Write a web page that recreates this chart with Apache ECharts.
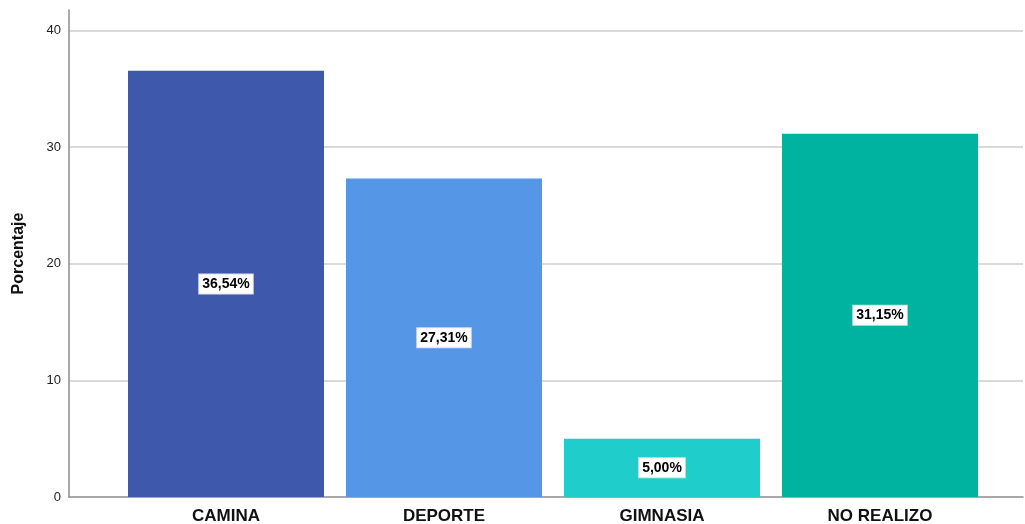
<!DOCTYPE html>
<html>
<head>
<meta charset="utf-8">
<script src="https://cdn.jsdelivr.net/npm/echarts@6/dist/echarts.min.js"></script>
<style>
  html, body { margin: 0; padding: 0; background: #fff; }
  #chart { width: 1025px; height: 524px; }
</style>
</head>
<body>
<div id="chart"></div>
<script>
// Actividad física realizada (porcentaje)
const categories = ['CAMINA', 'DEPORTE', 'GIMNASIA', 'NO REALIZO'];
const percentages = [36.54, 27.31, 5.00, 31.15];
const barColors = ['#3E58AC', '#5597E6', '#1FCECB', '#00B3A0'];
const yTicks = [0, 10, 20, 30, 40];

const Y_MAX = 41.75;
const FONT = 'Liberation Sans, Arial, sans-serif';

const chart = echarts.init(document.getElementById('chart'));

chart.setOption({
  animation: false,
  textStyle: { fontFamily: FONT },
  grid: [
    // frame grid: axis lines and gridlines across full width
    { left: 69, right: 2, top: 10, bottom: 27, outerBoundsMode: 'none', containLabel: false },
    // bar grid: categories occupy the inner span
    { left: 117, width: 872, top: 10, bottom: 27, outerBoundsMode: 'none', containLabel: false }
  ],
  xAxis: [
    {
      type: 'category', gridIndex: 0, data: [''],
      axisLine: { show: true, lineStyle: { color: '#8c8c8c', width: 1.5 } },
      axisTick: { show: false }, axisLabel: { show: false }, splitLine: { show: false }
    },
    {
      type: 'category', gridIndex: 1, data: categories,
      axisLine: { show: false }, axisTick: { show: false },
      axisLabel: { color: '#111', fontSize: 17, fontWeight: 'bold', margin: 11, fontFamily: FONT }
    }
  ],
  yAxis: [
    {
      type: 'value', gridIndex: 0, min: 0, max: Y_MAX, interval: 10,
      name: 'Porcentaje', nameLocation: 'middle', nameGap: 42, nameRotate: 90,
      nameTextStyle: { fontSize: 16, fontWeight: 'bold', color: '#111', fontFamily: FONT },
      axisLine: { show: true, lineStyle: { color: '#8c8c8c', width: 1.5 } },
      axisTick: { show: false },
      axisLabel: {
        color: '#222', fontSize: 13, margin: 8,
        formatter: v => (yTicks.indexOf(v) >= 0 ? String(v) : '')
      },
      splitLine: { show: false }
    },
    {
      type: 'value', gridIndex: 1, min: 0, max: Y_MAX, show: false
    }
  ],
  series: [
    {
      // horizontal gridlines at each tick value, kept behind the bars
      type: 'line', xAxisIndex: 0, yAxisIndex: 0, data: [], silent: true, z: 0,
      markLine: {
        symbol: 'none', silent: true, label: { show: false }, z: 0,
        lineStyle: { color: '#d9d9d9', width: 2, type: 'solid' },
        data: yTicks.filter(t => t > 0).map(t => ({ yAxis: t }))
      }
    },
    {
      type: 'bar', xAxisIndex: 1, yAxisIndex: 1, z: 5,
      barWidth: 196,
      data: percentages.map((v, i) => ({ value: v, itemStyle: { color: barColors[i] } })),
      label: {
        show: true, position: 'inside',
        formatter: p => p.value.toFixed(2).replace('.', ',') + '%',
        color: '#000', fontSize: 14, fontWeight: 'bold', fontFamily: FONT,
        backgroundColor: '#fff', padding: [3, 3, 2, 3],
        borderColor: '#e0e0e0', borderWidth: 1
      }
    }
  ]
});
</script>
</body>
</html>
